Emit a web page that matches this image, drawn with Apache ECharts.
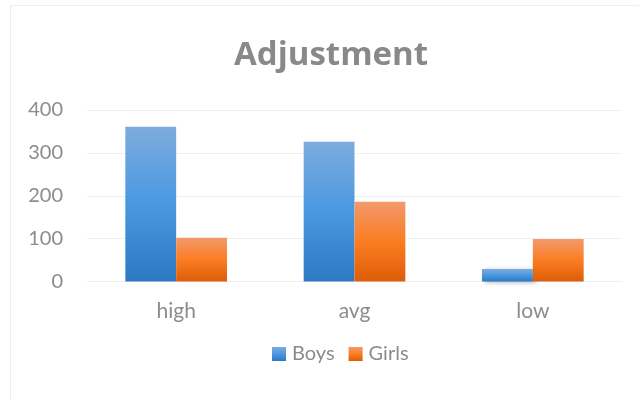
<!DOCTYPE html>
<html>
<head>
<meta charset="utf-8">
<script src="https://cdn.jsdelivr.net/npm/echarts@6/dist/echarts.min.js"></script>
<style>
  html, body { margin: 0; padding: 0; background: #fff; }
  #chart { width: 639px; height: 400px; }
</style>
</head>
<body>
<div id="chart"></div>
<script>
const categories = ['high', 'avg', 'low']
const boys = [361, 326, 29]
const girls = [102, 186, 99]
const yTicks = [0, 100, 200, 300, 400]

const grad = (top, mid, bottom) => new echarts.graphic.LinearGradient(0, 0, 0, 1, [
  { offset: 0, color: top },
  { offset: 0.5, color: mid },
  { offset: 1, color: bottom }
])

const barShadow = {
  shadowColor: 'rgba(0,0,0,0.3)',
  shadowBlur: 4,
  shadowOffsetX: 3,
  shadowOffsetY: 1
}

const chart = echarts.init(document.getElementById('chart'))
chart.setOption({
  backgroundColor: '#fff',
  textStyle: { fontFamily: 'Lato' },
  graphic: [{
    type: 'rect',
    shape: { x: 10.5, y: 5.5, width: 640, height: 400 },
    style: { fill: 'none', stroke: '#efefef', lineWidth: 1 },
    silent: true
  }],
  title: {
    text: 'Adjustment',
    left: 229,
    top: 34,
    textStyle: { color: '#898989', fontSize: 33, fontWeight: 'bold', fontFamily: 'Open Sans' }
  },
  legend: {
    data: ['Boys', 'Girls'],
    left: 267,
    top: 339,
    itemWidth: 14,
    itemHeight: 14,
    itemGap: 14,
    icon: 'rect',
    textStyle: { color: '#8c8c8c', fontSize: 20, fontFamily: 'Lato', padding: [0, 0, 0, 1] }
  },
  grid: { left: 87, right: 17, top: 110, bottom: 118.5 },
  xAxis: {
    type: 'category',
    data: categories,
    axisLine: { show: true, lineStyle: { color: '#f0f0f0' } },
    axisTick: { show: false },
    axisLabel: { color: '#8c8c8c', fontSize: 21, margin: 19 }
  },
  yAxis: {
    type: 'value',
    min: yTicks[0],
    max: yTicks[yTicks.length - 1],
    interval: 100,
    axisLine: { show: false },
    axisTick: { show: false },
    splitLine: { lineStyle: { color: '#f0f0f0', width: 1 } },
    axisLabel: { color: '#8c8c8c', fontSize: 20, margin: 24 }
  },
  series: [
    {
      name: 'Boys',
      type: 'bar',
      data: boys,
      barGap: '0%',
      barCategoryGap: '43%',
      itemStyle: Object.assign({ color: grad('#7dacde', '#4a98e0', '#2d79c4') }, barShadow)
    },
    {
      name: 'Girls',
      type: 'bar',
      data: girls,
      itemStyle: Object.assign({ color: grad('#f2996c', '#fb7d22', '#dd5d08') }, barShadow)
    }
  ]
})
</script>
</body>
</html>
